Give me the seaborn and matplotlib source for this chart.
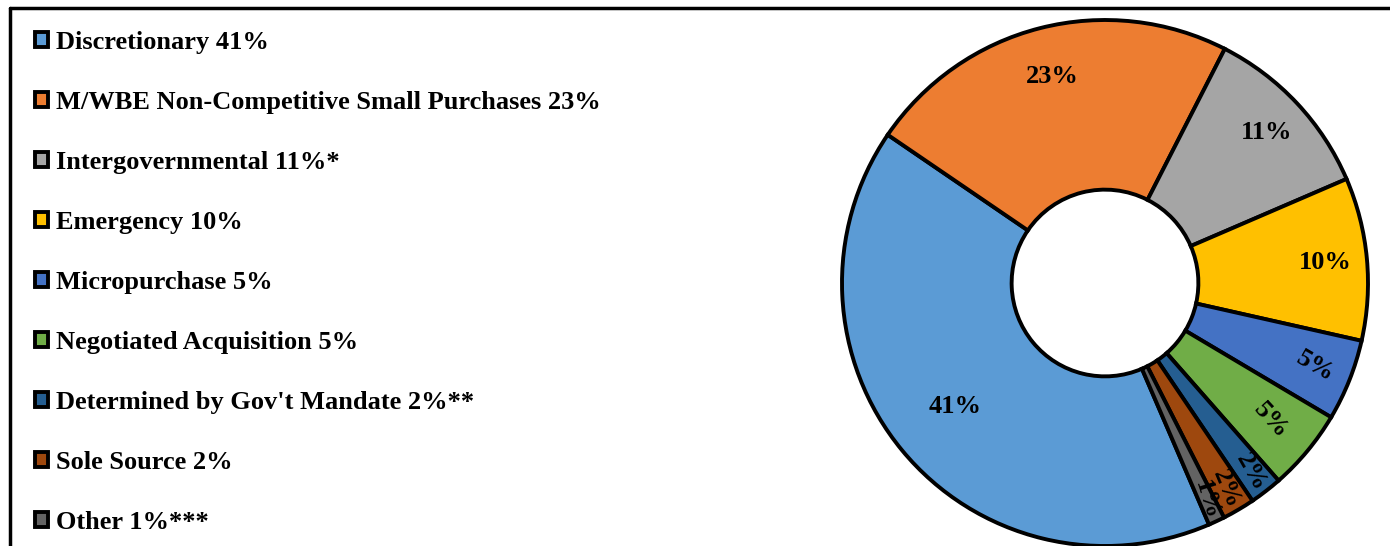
import numpy as np
import matplotlib
matplotlib.use("Agg")
import matplotlib.pyplot as plt
import seaborn as sns
from matplotlib.lines import Line2D

categories = ["Discretionary", "M/WBE Non-Competitive Small Purchases", "Intergovernmental",
              "Emergency", "Micropurchase", "Negotiated Acquisition",
              "Determined by Gov't Mandate", "Sole Source", "Other"]
values = [41, 23, 11, 10, 5, 5, 2, 2, 1]
suffixes = ["", "", "*", "", "", "", "**", "", "***"]
colors = ["#5B9BD5", "#ED7D31", "#A5A5A5", "#FFC000", "#4472C4",
          "#70AD47", "#255E91", "#9E480E", "#636363"]

sns.set_theme(style="white")
plt.rcParams['font.family'] = ['Liberation Serif', 'DejaVu Serif']
plt.rcParams['font.weight'] = 'bold'
plt.rcParams['text.color'] = 'black'
palette = sns.color_palette(colors)

W, H = 1390, 546
fig = plt.figure(figsize=(W / 100, H / 100), dpi=100)

# pie axes
cx, cy, R = 1105, 283, 263
ax = fig.add_axes([(cx - R) / W, (H - cy - R) / H, 2 * R / W, 2 * R / H])
hole = 0.355
wedges, _ = ax.pie(values, colors=palette, startangle=-66.7, counterclock=False,
                   radius=1.0,
                   wedgeprops=dict(width=1 - hole, edgecolor="black", linewidth=2.8))
ax.set_xlim(-1.0, 1.0)
ax.set_ylim(-1.0, 1.0)
ax.set_aspect("equal")
ax.axis("off")

label_r = [0.74, 0.81, 0.84, 0.84, 0.86, 0.82, 0.91, 0.91, 0.91]
for w, v, r in zip(wedges, values, label_r):
    mid = (w.theta1 + w.theta2) / 2
    x, y = r * np.cos(np.radians(mid)), r * np.sin(np.radians(mid))
    a = (mid + 180) % 360 - 180
    if a > 90:
        a -= 180
    if a < -90:
        a += 180
    rot = a - 8 if v <= 5 else 0
    ax.text(x, y, f"{v}%", ha="center", va="center", rotation=rot,
            rotation_mode="anchor", fontsize=19, fontweight="bold", color="black")

# legend
labels = [f"{c} {v}%{s}" for c, v, s in zip(categories, values, suffixes)]
fig.legend(wedges, labels, loc="upper left", bbox_to_anchor=(35 / W, 1 - 31 / H),
           frameon=False, prop=dict(weight="bold", size=19), labelcolor="black",
           handlelength=0.5, handleheight=0.5, handletextpad=0.3,
           labelspacing=1.40, borderpad=0, borderaxespad=0)

# frame lines (top and left)
fig.add_artist(Line2D([10 / W, 1.0], [1 - 8 / H, 1 - 8 / H], color="black", lw=2.5,
                      transform=fig.transFigure))
fig.add_artist(Line2D([10 / W, 10 / W], [0, 1 - 8 / H], color="black", lw=2.5,
                      transform=fig.transFigure))

fig.savefig("out.png", dpi=100)
